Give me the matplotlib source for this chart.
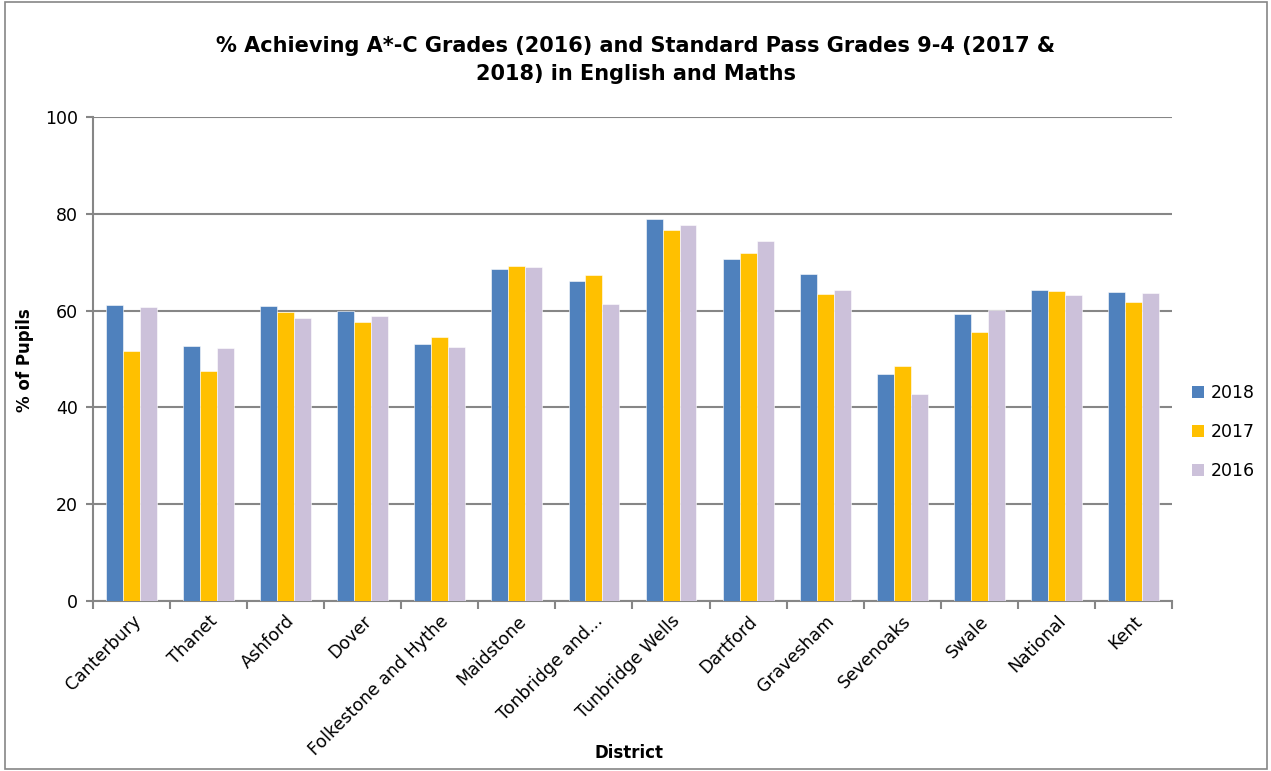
import numpy as np
import matplotlib.pyplot as plt
from matplotlib.patches import Rectangle, Patch

districts = ["Canterbury", "Thanet", "Ashford", "Dover", "Folkestone and Hythe",
             "Maidstone", "Tonbridge and...", "Tunbridge Wells", "Dartford",
             "Gravesham", "Sevenoaks", "Swale", "National", "Kent"]
y2018 = [61.2, 52.7, 60.9, 60.0, 53.2, 68.6, 66.1, 78.9, 70.7, 67.6, 46.9, 59.2, 64.3, 63.8]
y2017 = [51.7, 47.6, 59.8, 57.7, 54.6, 69.2, 67.4, 76.6, 71.9, 63.4, 48.5, 55.6, 64.1, 61.8]
y2016 = [60.7, 52.3, 58.5, 58.9, 52.5, 69.1, 61.4, 77.6, 74.4, 64.3, 42.8, 60.1, 63.2, 63.6]
years = ["2018", "2017", "2016"]
colors = ["#4F81BD", "#FFC000", "#CCC1DA"]

grey = "#868686"
fig = plt.figure(figsize=(12.71, 7.71), dpi=100)
ax = fig.add_axes([93 / 1271, 1 - 601 / 771, (1172 - 93) / 1271, (601 - 117) / 771])

# chart border
fig.patches.append(Rectangle((0.004, 0.003), 0.993, 0.994, transform=fig.transFigure,
                             fill=False, edgecolor=grey, linewidth=1.2))

x = np.arange(len(districts))
w = 0.22
for i, (vals, c) in enumerate(zip([y2018, y2017, y2016], colors)):
    ax.bar(x + (i - 1) * w, vals, w, color=c, edgecolor="white", linewidth=0.4,
           label=years[i], zorder=3)

ax.set_xlim(-0.5, len(districts) - 0.5)
ax.set_ylim(0, 100)
ax.set_yticks(range(0, 101, 20))
ax.yaxis.grid(True, color=grey, linewidth=1.5, zorder=0)
for s in ["top", "right"]:
    ax.spines[s].set_visible(False)
for s in ["left", "bottom"]:
    ax.spines[s].set_color(grey)
    ax.spines[s].set_linewidth(1.5)

ax.set_xticks(x)
ax.set_xticks(np.arange(-0.5, len(districts), 1), minor=True)
ax.set_xticklabels(districts, rotation=45, ha="right", rotation_mode="anchor", fontsize=12.5)
ax.tick_params(axis="x", which="major", length=0, pad=8)
ax.tick_params(axis="x", which="minor", length=6, width=1.5, color=grey)
ax.tick_params(axis="y", length=5, width=1.5, color=grey, labelsize=12.5, pad=6)

ax.set_ylabel("% of Pupils", fontsize=12, fontweight="bold")
ax.yaxis.set_label_coords(-59 / 1079, (601 - 360) / 484)
ax.set_xlabel("District", fontsize=12, fontweight="bold")
ax.xaxis.set_label_coords(0.497, -(744 - 601) / 484)

fig.text(0.5, 1 - 60 / 771,
         "% Achieving A*-C Grades (2016) and Standard Pass Grades 9-4 (2017 &\n2018) in English and Maths",
         ha="center", va="center", fontsize=15, fontweight="bold", linespacing=1.45)

handles = [Patch(facecolor=c, edgecolor="none") for c in colors]
fig.legend(handles, years, loc="center left", bbox_to_anchor=(1176 / 1271, 1 - 432 / 771),
           frameon=False, fontsize=12.5, handlelength=0.7, handleheight=0.7,
           handletextpad=0.4, labelspacing=1.2)

plt.savefig("out.png", dpi=100)
